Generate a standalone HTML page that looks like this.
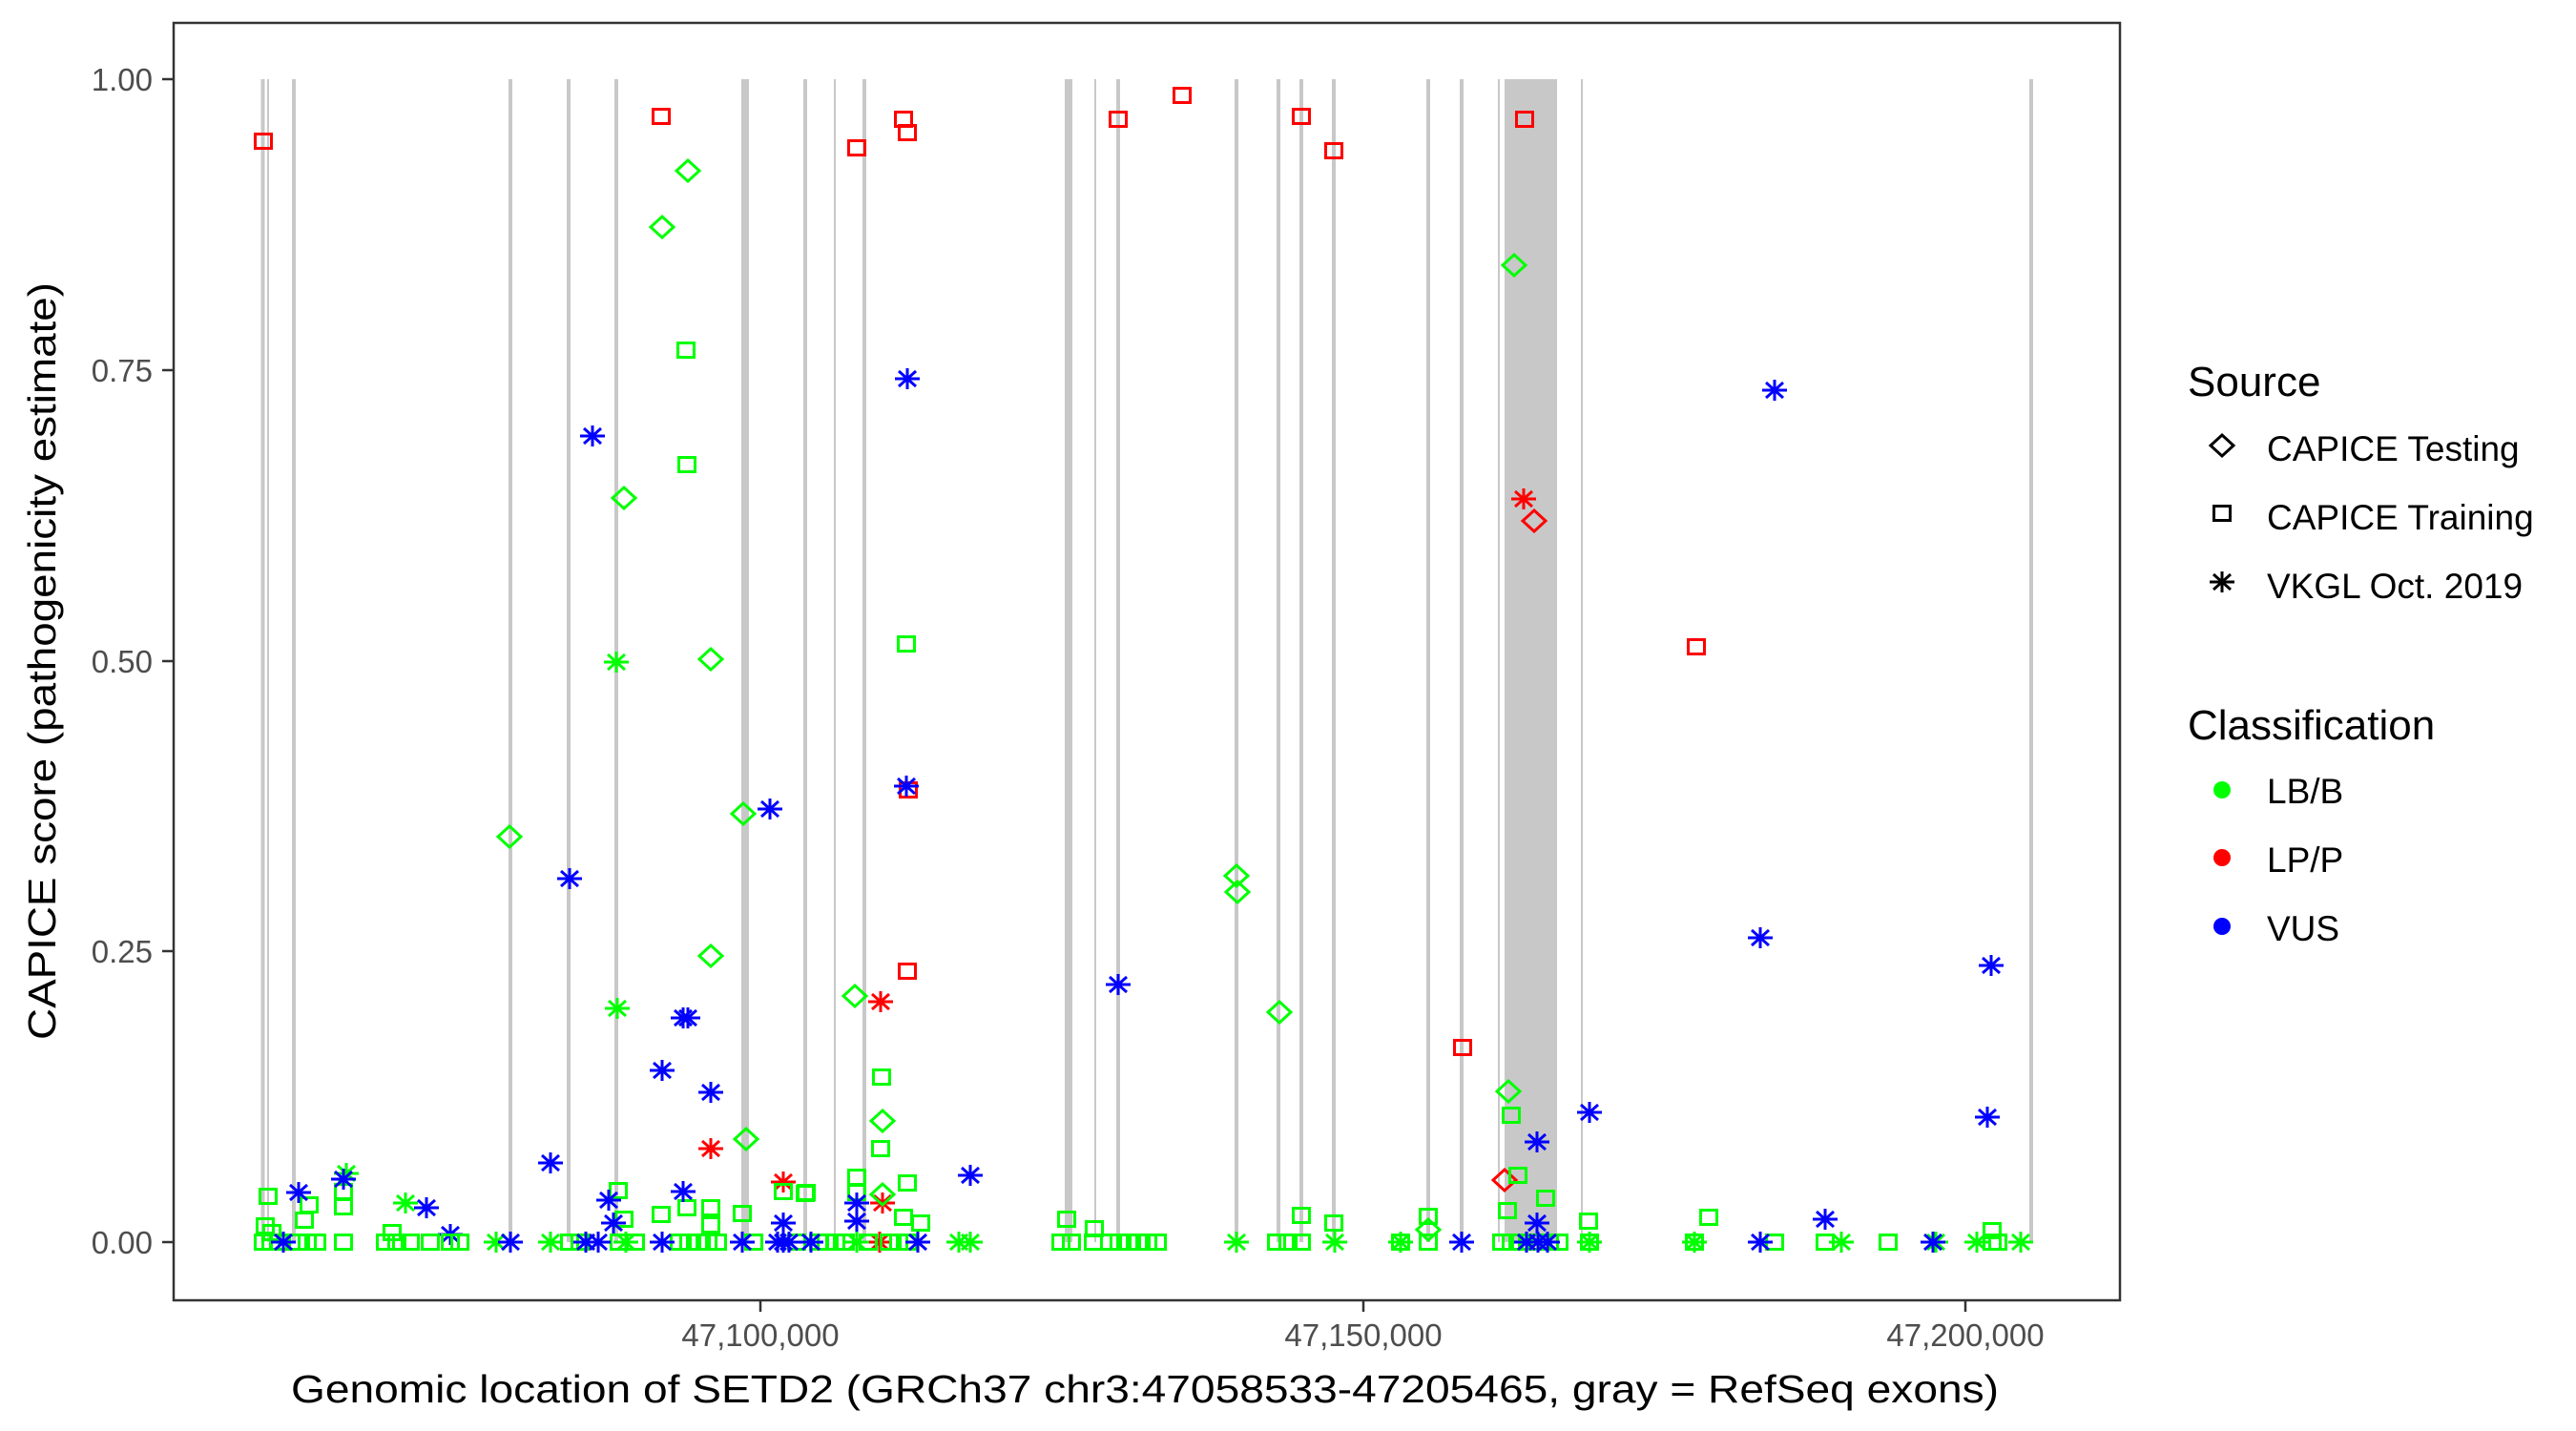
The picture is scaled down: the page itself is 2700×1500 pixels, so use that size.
<!DOCTYPE html>
<html><head><meta charset="utf-8"><style>
html,body{margin:0;padding:0;background:#fff;}
svg{display:block;font-family:"Liberation Sans",sans-serif;}
.g{stroke:#00ff00}.r{stroke:#ff0000}.b{stroke:#0000ff}.k{stroke:#000}
</style></head><body>
<svg width="2700" height="1500" viewBox="0 0 2700 1500" xmlns="http://www.w3.org/2000/svg">
<defs>
<rect id="s" x="-8.5" y="-7.5" width="17" height="15" fill="none" stroke-width="3"/>
<polygon id="d" points="0,-11 12,0 0,11 -12,0" fill="none" stroke-width="3"/>
<g id="a" stroke-width="3" fill="none"><line x1="-13" y1="0" x2="13" y2="0"/><line x1="0" y1="-11" x2="0" y2="11"/><line x1="-9" y1="-8" x2="9" y2="8"/><line x1="-9" y1="8" x2="9" y2="-8"/></g>
</defs>
<rect x="0" y="0" width="2700" height="1500" fill="#fff"/>
<g stroke="#c8c8c8" stroke-width="4">
<line x1="275.5" y1="83" x2="275.5" y2="1302"/><line x1="281" y1="83" x2="281" y2="1302" stroke-width="2"/>
<line x1="308" y1="83" x2="308" y2="1302"/><line x1="535" y1="83" x2="535" y2="1302"/>
<line x1="596" y1="83" x2="596" y2="1302"/><line x1="646" y1="83" x2="646" y2="1302"/>
<line x1="844" y1="83" x2="844" y2="1302"/><line x1="875" y1="83" x2="875" y2="1302" stroke-width="2"/>
<line x1="906" y1="83" x2="906" y2="1302"/><line x1="1148" y1="83" x2="1148" y2="1302" stroke-width="2"/>
<line x1="1172" y1="83" x2="1172" y2="1302"/><line x1="1296" y1="83" x2="1296" y2="1302"/>
<line x1="1340" y1="83" x2="1340" y2="1302"/><line x1="1364" y1="83" x2="1364" y2="1302"/>
<line x1="1398" y1="83" x2="1398" y2="1302"/><line x1="1497" y1="83" x2="1497" y2="1302"/>
<line x1="1532" y1="83" x2="1532" y2="1302"/><line x1="1571" y1="83" x2="1571" y2="1302" stroke-width="2"/>
<line x1="1658" y1="83" x2="1658" y2="1302" stroke-width="2"/><line x1="2129" y1="83" x2="2129" y2="1302"/>
</g>
<g fill="#c8c8c8">
<rect x="777" y="83" width="8" height="1219"/><rect x="1116" y="83" width="8" height="1219"/>
<rect x="1577" y="83" width="55" height="1219"/>
</g>
<g>
<use href="#s" class="r" x="276" y="148"/><use href="#s" class="r" x="693" y="122"/>
<use href="#s" class="r" x="898" y="155"/><use href="#s" class="r" x="947" y="125"/><use href="#s" class="r" x="951" y="139"/>
<use href="#s" class="r" x="1172" y="125"/><use href="#s" class="r" x="1239" y="100"/><use href="#s" class="r" x="1364" y="122"/>
<use href="#s" class="r" x="1398" y="158"/><use href="#s" class="r" x="1598" y="125"/><use href="#s" class="r" x="952" y="828"/>
<use href="#s" class="r" x="951" y="1018"/><use href="#s" class="r" x="1533" y="1098"/><use href="#s" class="r" x="1778" y="678"/>
<use href="#a" class="r" x="1597" y="523"/><use href="#d" class="r" x="1608" y="546"/>
<use href="#a" class="r" x="923" y="1050"/><use href="#a" class="r" x="745" y="1204"/><use href="#a" class="r" x="821" y="1239"/>
<use href="#d" class="r" x="1577" y="1237"/><use href="#a" class="r" x="925" y="1261"/><use href="#a" class="r" x="922" y="1302"/>

<use href="#d" class="g" x="721" y="179"/><use href="#d" class="g" x="694" y="238"/><use href="#s" class="g" x="719" y="367"/>
<use href="#s" class="g" x="720" y="487"/><use href="#d" class="g" x="654" y="522"/><use href="#a" class="g" x="646" y="694"/>
<use href="#d" class="g" x="745" y="691"/><use href="#d" class="g" x="534" y="877"/><use href="#d" class="g" x="779" y="853"/>
<use href="#d" class="g" x="745" y="1002"/><use href="#a" class="g" x="647" y="1057"/><use href="#d" class="g" x="782" y="1194"/>
<use href="#a" class="g" x="363" y="1230"/><use href="#a" class="g" x="425" y="1261"/>
<use href="#d" class="g" x="1587" y="278"/><use href="#s" class="g" x="950" y="675"/>
<use href="#d" class="g" x="1296" y="918"/><use href="#d" class="g" x="1297" y="935"/><use href="#d" class="g" x="896" y="1044"/>
<use href="#d" class="g" x="1341" y="1061"/><use href="#s" class="g" x="924" y="1129"/><use href="#d" class="g" x="1581" y="1144"/>
<use href="#s" class="g" x="1584" y="1169"/><use href="#d" class="g" x="925" y="1175"/><use href="#s" class="g" x="923" y="1204"/>
<use href="#s" class="g" x="1591" y="1232"/><use href="#s" class="g" x="845" y="1250"/><use href="#s" class="g" x="898" y="1234"/>
<use href="#s" class="g" x="898" y="1250"/><use href="#d" class="g" x="925" y="1252"/><use href="#s" class="g" x="951" y="1240"/>
<use href="#s" class="g" x="947" y="1276"/><use href="#s" class="g" x="965" y="1282"/><use href="#s" class="g" x="778" y="1272"/>
<use href="#s" class="g" x="1118" y="1278"/><use href="#s" class="g" x="1147" y="1288"/><use href="#s" class="g" x="1364" y="1274"/>
<use href="#s" class="g" x="1398" y="1282"/><use href="#s" class="g" x="1497" y="1275"/><use href="#d" class="g" x="1497" y="1289"/>
<use href="#s" class="g" x="1620" y="1256"/><use href="#s" class="g" x="1580" y="1269"/><use href="#s" class="g" x="1791" y="1276"/>
<use href="#s" class="g" x="1665" y="1280"/><use href="#s" class="g" x="2088" y="1290"/>
<use href="#s" class="g" x="281" y="1254"/><use href="#s" class="g" x="324" y="1263"/><use href="#s" class="g" x="319" y="1279"/>
<use href="#s" class="g" x="360" y="1265"/><use href="#s" class="g" x="360" y="1249"/><use href="#s" class="g" x="411" y="1292"/>
<use href="#s" class="g" x="648" y="1248"/><use href="#s" class="g" x="654" y="1278"/><use href="#s" class="g" x="693" y="1273"/>
<use href="#s" class="g" x="720" y="1266"/><use href="#s" class="g" x="745" y="1266"/><use href="#s" class="g" x="745" y="1284"/>
<use href="#s" class="g" x="821" y="1249"/><use href="#s" class="g" x="844" y="1251"/><use href="#s" class="g" x="278" y="1285"/><use href="#s" class="g" x="285" y="1292"/>

<use href="#a" class="b" x="621" y="457"/><use href="#a" class="b" x="597" y="921"/><use href="#a" class="b" x="807" y="848"/>
<use href="#a" class="b" x="716" y="1067"/><use href="#a" class="b" x="721" y="1067"/><use href="#a" class="b" x="694" y="1122"/>
<use href="#a" class="b" x="745" y="1145"/><use href="#a" class="b" x="577" y="1219"/><use href="#a" class="b" x="360" y="1236"/>
<use href="#a" class="b" x="313" y="1250"/><use href="#a" class="b" x="447" y="1266"/><use href="#a" class="b" x="472" y="1294"/>
<use href="#a" class="b" x="638" y="1258"/><use href="#a" class="b" x="716" y="1249"/><use href="#a" class="b" x="643" y="1282"/>
<use href="#a" class="b" x="821" y="1282"/><use href="#a" class="b" x="951" y="397"/><use href="#a" class="b" x="950" y="824"/>
<use href="#a" class="b" x="1172" y="1032"/><use href="#a" class="b" x="1611" y="1197"/><use href="#a" class="b" x="1017" y="1232"/>
<use href="#a" class="b" x="898" y="1261"/><use href="#a" class="b" x="898" y="1280"/><use href="#a" class="b" x="1611" y="1282"/>
<use href="#a" class="b" x="1860" y="409"/><use href="#a" class="b" x="1845" y="983"/><use href="#a" class="b" x="2087" y="1012"/>
<use href="#a" class="b" x="1666" y="1166"/><use href="#a" class="b" x="2083" y="1171"/><use href="#a" class="b" x="1913" y="1278"/>
</g>
<g transform="translate(0,1302)">
<use href="#s" class="g" x="276" y="0"/><use href="#s" class="g" x="284" y="0"/><use href="#s" class="g" x="292" y="0"/>
<use href="#s" class="g" x="312" y="0"/><use href="#s" class="g" x="322" y="0"/><use href="#s" class="g" x="332" y="0"/>
<use href="#s" class="g" x="360" y="0"/><use href="#s" class="g" x="404" y="0"/><use href="#s" class="g" x="416" y="0"/><use href="#s" class="g" x="430" y="0"/>
<use href="#s" class="g" x="451" y="0"/><use href="#s" class="g" x="472" y="0"/><use href="#s" class="g" x="482" y="0"/>
<use href="#a" class="g" x="520" y="0"/><use href="#a" class="g" x="577" y="0"/><use href="#s" class="g" x="597" y="0"/><use href="#s" class="g" x="608" y="0"/>
<use href="#s" class="g" x="649" y="0"/><use href="#a" class="g" x="656" y="0"/><use href="#s" class="g" x="666" y="0"/>
<use href="#s" class="g" x="712" y="0"/><use href="#s" class="g" x="722" y="0"/><use href="#s" class="g" x="732" y="0"/><use href="#s" class="g" x="742" y="0"/><use href="#s" class="g" x="752" y="0"/>
<use href="#s" class="g" x="790" y="0"/><use href="#s" class="g" x="835" y="0"/><use href="#s" class="g" x="858" y="0"/><use href="#s" class="g" x="866" y="0"/>
<use href="#s" class="g" x="876" y="0"/><use href="#s" class="g" x="886" y="0"/><use href="#a" class="g" x="898" y="0"/><use href="#s" class="g" x="910" y="0"/>
<use href="#s" class="g" x="932" y="0"/><use href="#s" class="g" x="942" y="0"/><use href="#s" class="g" x="952" y="0"/>
<use href="#a" class="g" x="1005" y="0"/><use href="#a" class="g" x="1017" y="0"/>
<use href="#s" class="g" x="1112" y="0"/><use href="#s" class="g" x="1123" y="0"/><use href="#s" class="g" x="1146" y="0"/>
<use href="#s" class="g" x="1163" y="0"/><use href="#s" class="g" x="1173" y="0"/><use href="#s" class="g" x="1183" y="0"/><use href="#s" class="g" x="1193" y="0"/><use href="#s" class="g" x="1203" y="0"/><use href="#s" class="g" x="1213" y="0"/>
<use href="#a" class="g" x="1296" y="0"/><use href="#s" class="g" x="1338" y="0"/><use href="#s" class="g" x="1350" y="0"/><use href="#s" class="g" x="1364" y="0"/>
<use href="#a" class="g" x="1399" y="0"/><use href="#a" class="g" x="1468" y="0"/><use href="#s" class="g" x="1468" y="0"/><use href="#s" class="g" x="1497" y="0"/>
<use href="#s" class="g" x="1574" y="0"/><use href="#s" class="g" x="1584" y="0"/><use href="#s" class="g" x="1594" y="0"/><use href="#s" class="g" x="1604" y="0"/>
<use href="#s" class="g" x="1614" y="0"/><use href="#s" class="g" x="1624" y="0"/><use href="#s" class="g" x="1634" y="0"/>
<use href="#a" class="g" x="1666" y="0"/><use href="#s" class="g" x="1666" y="0"/><use href="#a" class="g" x="1776" y="0"/><use href="#s" class="g" x="1776" y="0"/>
<use href="#s" class="g" x="1860" y="0"/><use href="#s" class="g" x="1913" y="0"/><use href="#a" class="g" x="1930" y="0"/><use href="#s" class="g" x="1979" y="0"/>
<use href="#a" class="g" x="2029" y="0"/><use href="#a" class="g" x="2072" y="0"/><use href="#s" class="g" x="2088" y="0"/><use href="#s" class="g" x="2094" y="0"/><use href="#a" class="g" x="2118" y="0"/>
<use href="#a" class="b" x="297" y="0"/><use href="#a" class="b" x="535" y="0"/><use href="#a" class="b" x="614" y="0"/><use href="#a" class="b" x="627" y="0"/>
<use href="#a" class="b" x="694" y="0"/><use href="#a" class="b" x="778" y="0"/><use href="#a" class="b" x="815" y="0"/><use href="#a" class="b" x="821" y="0"/><use href="#a" class="b" x="827" y="0"/>
<use href="#a" class="b" x="850" y="0"/><use href="#a" class="b" x="962" y="0"/><use href="#a" class="b" x="1532" y="0"/>
<use href="#a" class="b" x="1600" y="0"/><use href="#a" class="b" x="1612" y="0"/><use href="#a" class="b" x="1622" y="0"/>
<use href="#a" class="b" x="1845" y="0"/><use href="#a" class="b" x="2026" y="0"/>
</g>
<rect x="182" y="24" width="2040" height="1339" fill="none" stroke="#333" stroke-width="2.5"/>
<g stroke="#333" stroke-width="2.5">
<line x1="170" y1="83" x2="182" y2="83"/><line x1="170" y1="388" x2="182" y2="388"/><line x1="170" y1="693" x2="182" y2="693"/>
<line x1="170" y1="997" x2="182" y2="997"/><line x1="170" y1="1302" x2="182" y2="1302"/>
<line x1="797" y1="1363" x2="797" y2="1375"/><line x1="1429" y1="1363" x2="1429" y2="1375"/><line x1="2060" y1="1363" x2="2060" y2="1375"/>
</g>
<g fill="#4d4d4d" font-size="33" text-anchor="end">
<text x="160" y="95">1.00</text><text x="160" y="400">0.75</text><text x="160" y="705">0.50</text>
<text x="160" y="1009">0.25</text><text x="160" y="1314">0.00</text>
</g>
<g fill="#4d4d4d" font-size="33" text-anchor="middle">
<text x="797" y="1411">47,100,000</text><text x="1429" y="1411">47,150,000</text><text x="2060" y="1411">47,200,000</text>
</g>
<text x="1200" y="1470" font-size="41" text-anchor="middle" fill="#000" textLength="1790" lengthAdjust="spacingAndGlyphs">Genomic location of SETD2 (GRCh37 chr3:47058533-47205465, gray = RefSeq exons)</text>
<text transform="translate(58,693) rotate(-90)" font-size="41" text-anchor="middle" fill="#000" textLength="794" lengthAdjust="spacingAndGlyphs">CAPICE score (pathogenicity estimate)</text>
<text x="2293" y="415" font-size="44" fill="#000">Source</text>
<g font-size="37" fill="#000">
<text x="2376" y="483">CAPICE Testing</text><text x="2376" y="555">CAPICE Training</text><text x="2376" y="627">VKGL Oct. 2019</text>
</g>
<use href="#d" class="k" x="2329" y="467"/><use href="#s" class="k" x="2329" y="538"/><use href="#a" class="k" x="2329" y="610"/>
<text x="2293" y="775" font-size="44" fill="#000">Classification</text>
<g font-size="37" fill="#000">
<text x="2376" y="842">LB/B</text><text x="2376" y="914">LP/P</text><text x="2376" y="986">VUS</text>
</g>
<circle cx="2329" cy="828" r="9" fill="#00ff00"/><circle cx="2329" cy="899" r="9" fill="#ff0000"/><circle cx="2329" cy="971" r="9" fill="#0000ff"/>
</svg>
</body></html>
